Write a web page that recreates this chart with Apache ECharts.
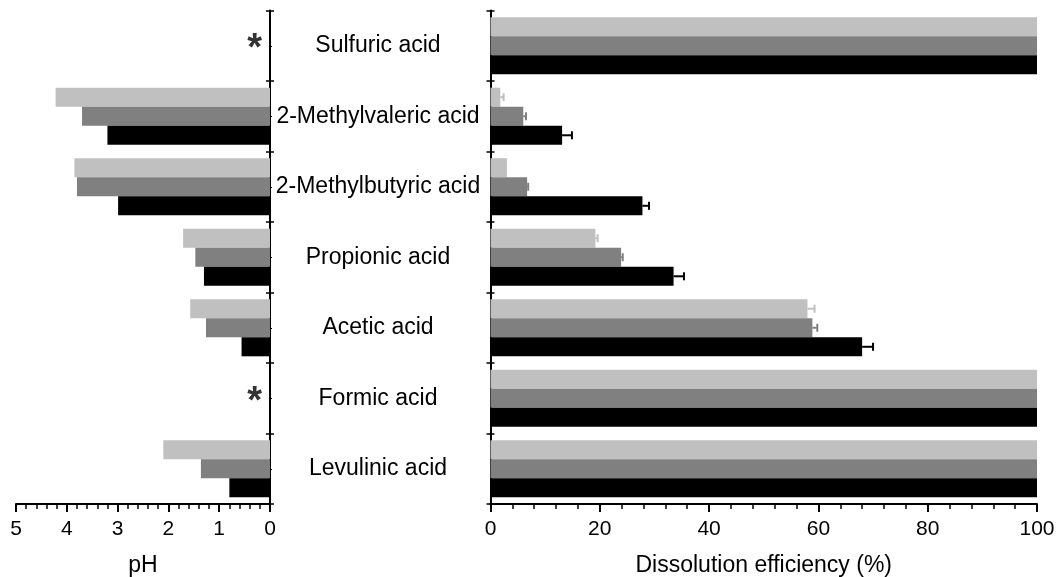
<!DOCTYPE html>
<html>
<head>
<meta charset="utf-8">
<script src="https://cdn.jsdelivr.net/npm/echarts@6/dist/echarts.min.js"></script>
<style>
  html, body { margin: 0; padding: 0; background: #fff; }
  #chart { width: 1059px; height: 577px; }
</style>
</head>
<body>
<div id="chart"></div>
<script>
// Acids tested (top to bottom)
const categories = ['Sulfuric acid', '2-Methylvaleric acid', '2-Methylbutyric acid',
  'Propionic acid', 'Acetic acid', 'Formic acid', 'Levulinic acid'];

// pH of the three solutions (null = not shown, marked with *)
const phLight = [null, 4.22, 3.85, 1.71, 1.57, null, 2.10];
const phGray  = [null, 3.70, 3.80, 1.47, 1.26, null, 1.36];
const phBlack = [null, 3.20, 2.99, 1.30, 0.56, null, 0.80];

// Dissolution efficiency (%) and its error
const effLight = [100, 1.8, 3.0, 19.2, 58.0, 100, 100];
const effGray  = [100, 6.0, 6.7, 23.9, 58.9, 100, 100];
const effBlack = [100, 13.1, 27.8, 33.5, 68.0, 100, 100];
const errLight = [0, 0.6, 0, 0.4, 1.3, 0, 0];
const errGray  = [0, 0.5, 0.2, 0.3, 0.9, 0, 0];
const errBlack = [0, 1.8, 1.2, 1.9, 2.0, 0, 0];

// Acids whose pH is marked with an asterisk, and where the mark sits on the pH axis
const starred = ['Sulfuric acid', 'Formic acid'];
const starPH = 0.3;

// Axis ticks
const phTicks = { min: 0, max: 5, interval: 1 };
const effTicks = { min: 0, max: 100, interval: 20 };

const COLORS = ['#c0c0c0', '#808080', '#000000'];
const FONT = 'Liberation Sans, Arial, sans-serif';
const GAP = 0.19;

const chart = echarts.init(document.getElementById('chart'), null, { renderer: 'canvas' });

function catAxes(gridIndex, position, showLabels) {
  const base = {
    type: 'category', data: categories, inverse: true, gridIndex, position,
    axisLabel: { show: false }, splitLine: { show: false }
  };
  return [
    Object.assign({}, base, {
      axisLine: { show: true, lineStyle: { color: '#000', width: 2 } },
      axisTick: { show: true, length: 4, inside: false, lineStyle: { color: '#000', width: 1.5 } },
      axisLabel: showLabels ? {
        show: true, margin: 108, align: 'center', color: '#000',
        fontSize: 23, fontFamily: FONT
      } : { show: false }
    }),
    Object.assign({}, base, {
      axisLine: { show: false },
      axisTick: { show: true, length: 4, inside: true, lineStyle: { color: '#000', width: 1.5 } }
    }),
    Object.assign({}, base, {
      axisLine: { show: false },
      axisTick: { show: true, alignWithLabel: true, length: 2, inside: position === 'right' ? false : true,
        lineStyle: { color: '#000', width: 1 } }
    })
  ];
}

function valueAxis(gridIndex, ticks, name, inverse) {
  return {
    type: 'value', gridIndex, inverse, min: ticks.min, max: ticks.max, interval: ticks.interval,
    position: 'bottom',
    name, nameLocation: 'middle', nameGap: 50,
    nameTextStyle: { color: '#000', fontSize: 23, fontFamily: FONT },
    axisLine: { show: true, onZero: false, lineStyle: { color: '#000', width: 2 } },
    axisTick: { show: true, inside: false, length: 8, lineStyle: { color: '#000', width: 2 } },
    minorTick: { show: true, splitNumber: 5, length: 5, lineStyle: { color: '#000', width: 1.5 } },
    axisLabel: { color: '#000', fontSize: 21, fontFamily: FONT, margin: 15 },
    splitLine: { show: false }
  };
}

function errorSeries(values, errs, idx) {
  return {
    type: 'custom', xAxisIndex: 1, yAxisIndex: 3, z: 5,
    data: values.map((v, i) => [i, v, errs[i]]),
    encode: { x: 1, y: 0 },
    renderItem(params, api) {
      const cat = api.value(0), val = api.value(1), err = api.value(2);
      if (!err) return null;
      const p0 = api.coord([val, cat]);
      const p1 = api.coord([val + err, cat]);
      const band = api.size([0, 1])[1];
      const bw = band * (1 - GAP) / 3;
      const y = p0[1] + (idx - 1) * bw;
      const h = 4;
      const style = { stroke: COLORS[idx], lineWidth: 2 };
      return {
        type: 'group',
        children: [
          { type: 'line', shape: { x1: p0[0], y1: y, x2: p1[0], y2: y }, style },
          { type: 'line', shape: { x1: p1[0], y1: y - h, x2: p1[0], y2: y + h }, style }
        ]
      };
    }
  };
}

const barBase = { type: 'bar', barGap: '0%', barCategoryGap: (GAP * 100) + '%' };

const option = {
  animation: false,
  backgroundColor: '#fff',
  textStyle: { fontFamily: FONT },
  grid: [
    { left: 16, top: 10.5, width: 254, height: 493.5, containLabel: false, outerBoundsMode: 'none' },
    { left: 490.5, top: 10.5, width: 546.5, height: 493.5, containLabel: false, outerBoundsMode: 'none' }
  ],
  xAxis: [
    valueAxis(0, phTicks, 'pH', true),
    valueAxis(1, effTicks, 'Dissolution efficiency (%)', false)
  ],
  yAxis: [
    ...catAxes(0, 'right', true),
    ...catAxes(1, 'left', false)
  ],
  series: [
    Object.assign({}, barBase, { xAxisIndex: 0, yAxisIndex: 0, data: phLight, itemStyle: { color: COLORS[0] } }),
    Object.assign({}, barBase, { xAxisIndex: 0, yAxisIndex: 0, data: phGray, itemStyle: { color: COLORS[1] } }),
    Object.assign({}, barBase, { xAxisIndex: 0, yAxisIndex: 0, data: phBlack, itemStyle: { color: COLORS[2] } }),
    Object.assign({}, barBase, { xAxisIndex: 1, yAxisIndex: 3, data: effLight, itemStyle: { color: COLORS[0] } }),
    Object.assign({}, barBase, { xAxisIndex: 1, yAxisIndex: 3, data: effGray, itemStyle: { color: COLORS[1] } }),
    Object.assign({}, barBase, { xAxisIndex: 1, yAxisIndex: 3, data: effBlack, itemStyle: { color: COLORS[2] } }),
    errorSeries(effLight, errLight, 0),
    errorSeries(effGray, errGray, 1),
    errorSeries(effBlack, errBlack, 2),
    {
      type: 'scatter', xAxisIndex: 0, yAxisIndex: 0, z: 6,
      data: starred.map(c => [starPH, c]),
      symbolSize: 1, itemStyle: { color: 'rgba(0,0,0,0)' },
      label: {
        show: true, position: 'inside', formatter: '*', color: '#000',
        textBorderWidth: 0, fontSize: 38, fontWeight: 'bold', fontFamily: FONT, offset: [0, 4]
      }
    }
  ]
};

chart.setOption(option);
</script>
</body>
</html>
